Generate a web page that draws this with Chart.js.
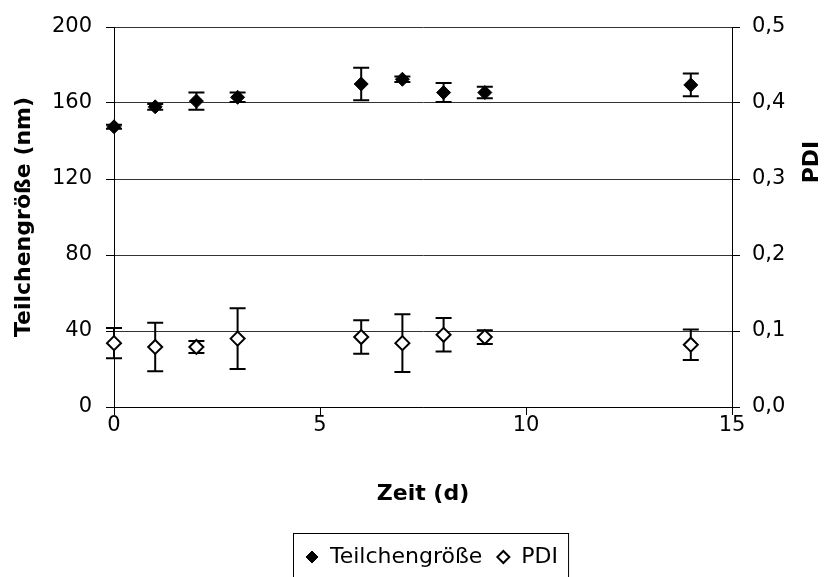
<!DOCTYPE html>
<html>
<head>
<meta charset="utf-8">
<script src="https://cdn.jsdelivr.net/npm/chart.js@4"></script>
<style>
  html, body { margin: 0; padding: 0; background: #fff; }
  #wrap { width: 827px; height: 577px; position: relative; }
</style>
</head>
<body>
<div id="wrap"><canvas id="myChart"></canvas></div>
<script>
// data
const days = [0, 1, 2, 3, 6, 7, 8, 9, 14];
const sizeNm = [147.5, 158, 161, 163, 170, 172.5, 165.5, 165.5, 169.5];
const sizeErr = [1, 1.5, 4.5, 2.5, 8.5, 1.5, 5, 3, 6];
const pdi = [0.084, 0.079, 0.079, 0.09, 0.092, 0.084, 0.095, 0.092, 0.082];
const pdiErr = [0.02, 0.032, 0.008, 0.04, 0.022, 0.038, 0.022, 0.009, 0.02];
const seriesNames = ['Teilchengröße', 'PDI'];
const xTitle = 'Zeit (d)';
const yTitle = 'Teilchengröße (nm)';
const y2Title = 'PDI';

Chart.defaults.font.family = '"DejaVu Sans", Verdana, sans-serif';
Chart.defaults.color = '#000';

// error bars, drawn under the markers
const errorBars = {
  id: 'errorBars',
  beforeDatasetsDraw(chart) {
    const ctx = chart.ctx;
    const xs = chart.scales.x;
    ctx.save();
    ctx.strokeStyle = '#000';
    ctx.lineWidth = 2;
    chart.data.datasets.forEach(ds => {
      const ys = chart.scales[ds.yAxisID];
      ds.data.forEach((p, i) => {
        const e = ds.errors[i];
        const x = xs.getPixelForValue(p.x);
        const top = ys.getPixelForValue(p.y + e);
        const bot = ys.getPixelForValue(p.y - e);
        ctx.beginPath();
        ctx.moveTo(x, top); ctx.lineTo(x, bot);
        ctx.moveTo(x - 8, top); ctx.lineTo(x + 8, top);
        ctx.moveTo(x - 8, bot); ctx.lineTo(x + 8, bot);
        ctx.stroke();
      });
    });
    ctx.restore();
  }
};

function diamond(ctx, x, y, r) {
  ctx.beginPath();
  ctx.moveTo(x, y - r);
  ctx.lineTo(x + r, y);
  ctx.lineTo(x, y + r);
  ctx.lineTo(x - r, y);
  ctx.closePath();
}

// right axis title (reads bottom to top) and boxed legend
const extras = {
  id: 'extras',
  afterDraw(chart) {
    const ctx = chart.ctx;
    ctx.save();
    ctx.fillStyle = '#000';
    ctx.font = 'bold 22px "DejaVu Sans"';
    ctx.translate(812, 162);
    ctx.rotate(-Math.PI / 2);
    ctx.textAlign = 'center';
    ctx.textBaseline = 'middle';
    ctx.fillText(y2Title, 0, 0);
    ctx.restore();

    ctx.save();
    ctx.font = '22px "DejaVu Sans"';
    ctx.textBaseline = 'middle';
    const boxLeft = 293, boxTop = 533, ly = 557;
    let x = boxLeft + 19;
    chart.data.datasets.forEach((ds, i) => {
      diamond(ctx, x, ly, 6);
      ctx.fillStyle = ds.backgroundColor;
      ctx.fill();
      ctx.lineWidth = i === 0 ? 1 : 2;
      ctx.strokeStyle = '#000';
      ctx.stroke();
      ctx.fillStyle = '#000';
      ctx.fillText(ds.label, x + 18, ly);
      x += 18 + ctx.measureText(ds.label).width + 21;
    });
    ctx.strokeStyle = '#000';
    ctx.lineWidth = 1;
    ctx.strokeRect(boxLeft + 0.5, boxTop + 0.5, x - 11 - boxLeft, 80);
    ctx.restore();
  }
};

new Chart(document.getElementById('myChart'), {
  type: 'scatter',
  data: {
    datasets: [{
      label: seriesNames[0],
      data: days.map((d, i) => ({x: d, y: sizeNm[i]})),
      errors: sizeErr,
      yAxisID: 'y',
      clip: false,
      pointStyle: 'rectRot',
      pointRadius: 7,
      backgroundColor: '#000',
      borderColor: '#000',
      borderWidth: 1
    }, {
      label: seriesNames[1],
      data: days.map((d, i) => ({x: d, y: pdi[i]})),
      errors: pdiErr,
      yAxisID: 'y2',
      clip: false,
      pointStyle: 'rectRot',
      pointRadius: 7,
      backgroundColor: '#fff',
      borderColor: '#000',
      borderWidth: 2
    }]
  },
  options: {
    responsive: true,
    maintainAspectRatio: false,
    animation: false,
    layout: { padding: { top: 27, bottom: 70, left: 0, right: 0 } },
    plugins: {
      legend: { display: false },
      tooltip: { enabled: false }
    },
    scales: {
      x: {
        type: 'linear',
        min: 0, max: 15,
        ticks: { stepSize: 5, font: { size: 21 }, padding: -2 },
        grid: { drawOnChartArea: false, tickLength: 8, tickColor: '#000' },
        border: { color: '#000' },
        title: { display: true, text: xTitle, font: { size: 22, weight: 'bold' }, padding: 0 },
        afterFit: s => { s.height = 100; }
      },
      y: {
        position: 'left',
        min: 0, max: 200,
        ticks: { stepSize: 40, font: { size: 21 }, padding: 14 },
        grid: { color: '#333', tickLength: 8, tickColor: '#000' },
        border: { color: '#000' },
        title: { display: true, text: yTitle, font: { size: 22, weight: 'bold' }, padding: { top: 11, bottom: 0 } },
        afterFit: s => { s.width = 114; }
      },
      y2: {
        position: 'right',
        min: 0, max: 0.5,
        ticks: {
          stepSize: 0.1, font: { size: 21 }, padding: 12,
          callback: v => v.toFixed(1).replace('.', ',')
        },
        grid: { drawOnChartArea: false, tickLength: 8, tickColor: '#000' },
        border: { color: '#000' },
        afterFit: s => { s.width = 95; }
      }
    }
  },
  plugins: [errorBars, extras]
});
</script>
</body>
</html>
